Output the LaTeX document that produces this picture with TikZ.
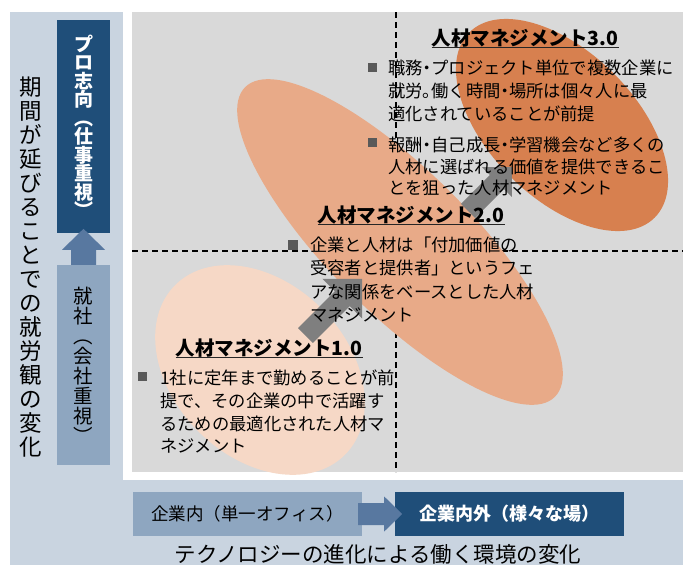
\documentclass[tikz,border=0pt]{standalone}
\usepackage{fontspec}
\setmainfont{Noto Sans CJK JP}
\newfontfamily\pf{Noto Sans CJK JP}[RawFeature=+palt]
\newcommand{\nk}{{\pf ・}}
\definecolor{bgblue}{HTML}{C9D4E0}
\definecolor{plotgray}{HTML}{D9D9D9}
\definecolor{lightbox}{HTML}{8EA6C0}
\definecolor{darkbox}{HTML}{1F4E79}
\definecolor{arrblue}{HTML}{5878A0}
\definecolor{elA}{HTML}{F6D8C6}
\definecolor{elB}{HTML}{E8AA88}
\definecolor{elC}{HTML}{D7804F}
\definecolor{arrgray}{HTML}{7F7F7F}
\definecolor{bulgray}{HTML}{595959}
\begin{document}
\begin{tikzpicture}[x=1pt,y=-1pt,
  bt/.style={anchor=base west, inner sep=0pt, font=\fontsize{17.3}{20}\selectfont},
  ttl/.style={anchor=base, inner sep=0pt, font=\fontsize{19.5}{22}\selectfont\bfseries},
  ul/.style={line width=1.3pt, black!85},
  dline/.style={line width=1.3pt, dash pattern=on 6pt off 4pt},
  vbox/.style={inner sep=0pt, align=center, minimum width=53pt},
  hbox/.style={inner sep=0pt, minimum width=229pt, minimum height=44pt}
]
\clip (0,0) rectangle (683,565);
\useasboundingbox (0,0) rectangle (683,565);
\fill[white] (0,0) rectangle (683,565);
\fill[bgblue] (10,12) rectangle (683,565);
\fill[white] (123,0) rectangle (683,480);
\fill[plotgray] (132,12) rectangle (683,472);
% dashed quadrant lines
\draw[dline] (396,12) -- (396,472);
\draw[dline] (132,251) -- (683,251);
% ellipses
\fill[elA, rotate around={-45:(260,370)}] (260,370) ellipse [x radius=120pt, y radius=87pt];
\fill[elB, rotate around={-45:(400,242)}] (400,242) ellipse [x radius=219pt, y radius=71pt];
\fill[elC, rotate around={-45:(562,125)}] (562,125) ellipse [x radius=131pt, y radius=73pt];
% gray block arrows
\begin{scope}[shift={(305.5,335.5)}, rotate=45]
\fill[arrgray] (0,-10.5) -- (52,-10.5) -- (52,-28) -- (80,0) -- (52,28) -- (52,10.5) -- (0,10.5) -- cycle;
\end{scope}
\begin{scope}[shift={(468,211)}, rotate=45]
\fill[arrgray] (0,-10) -- (41,-10) -- (41,-21) -- (62,0) -- (41,21) -- (41,10) -- (0,10) -- cycle;
\end{scope}
% 3.0
\node[ttl] (t3) at (525,45) {人材マネジメント3.0};
\draw[ul] ([yshift=-2.5pt]t3.base west) -- ([yshift=-2.5pt]t3.base east);
\fill[bulgray] (368,63) rectangle (377,72);
\fill[bulgray] (368,138) rectangle (377,147);
\node[bt] (b3a) at (388,74.5) {職務\nk プロジェクト単位で複数企業に};
\node[bt] (b3b) at (388,97.5) {就労{\pf 。}働く時間\nk 場所は個々人に最};
\node[bt] (b3c) at (388,120) {適化されていることが前提};
\node[bt] (b3d) at (388,151.5) {報酬\nk 自己成長\nk 学習機会など多くの};
\node[bt] (b3e) at (388,173) {人材に選ばれる価値を提供できるこ};
\node[bt] (b3f) at (388,194.5) {とを狙った人材マネジメント};
% 2.0
\node[ttl] (t2) at (411,222) {人材マネジメント2.0};
\draw[ul] ([yshift=-2.5pt]t2.base west) -- ([yshift=-2.5pt]t2.base east);
\fill[bulgray] (288,240) rectangle (297.5,249.5);
\node[bt] (b2a) at (310,251) {企業と人材は「付加価値の};
\node[bt] (b2b) at (310,274.5) {受容者と提供者」というフェ};
\node[bt] (b2c) at (310,298) {アな関係をベースとした人材};
\node[bt] (b2d) at (310,321) {マネジメント};
% 1.0
\node[ttl] (t1) at (269,355) {人材マネジメント1.0};
\draw[ul] ([yshift=-2.5pt]t1.base west) -- ([yshift=-2.5pt]t1.base east);
\fill[bulgray] (138,372) rectangle (147,381);
\node[bt] (b1a) at (160,384) {1社に定年まで勤めることが前};
\node[bt] (b1b) at (160,407) {提で、その企業の中で活躍す};
\node[bt] (b1c) at (160,430.5) {るための最適化された人材マ};
\node[bt] (b1d) at (160,452) {ネジメント};
% left panel
\node[vbox, fill=darkbox, minimum height=213pt, text=white,
  font=\fontsize{19}{18.5}\selectfont\bfseries] (pro) at (83.5,126.5)
  {プ\\ロ\\志\\向\\︵\\仕\\事\\重\\視\\︶};
\node[vbox, fill=lightbox, minimum height=200pt,
  font=\fontsize{19.5}{20}\selectfont] (shu) at (83.5,365)
  {就\\社\\︵\\会\\社\\重\\視\\︶};
\fill[arrblue] ([xshift=-12.5pt]shu.north) -- ([xshift=-12.5pt,yshift=15pt]shu.north)
  -- ([xshift=-21.5pt,yshift=15pt]shu.north) -- ([yshift=36pt]shu.north)
  -- ([xshift=21.5pt,yshift=15pt]shu.north) -- ([xshift=12.5pt,yshift=15pt]shu.north)
  -- ([xshift=12.5pt]shu.north) -- cycle;
\node[inner sep=0pt, align=center, font=\fontsize{22.5}{24}\selectfont] (kikan) at (31,267.5)
  {期\\間\\が\\延\\び\\る\\こ\\と\\で\\の\\就\\労\\観\\の\\変\\化};
% bottom
\node[hbox, fill=lightbox, font=\fontsize{17.5}{20}\selectfont] (k1) at (247.5,514) {企業内（単一オフィス）};
\node[hbox, fill=darkbox, text=white, font=\fontsize{18}{20}\selectfont\bfseries] (k2) at (509.5,514) {企業内外（様々な場）};
\fill[arrblue] ([xshift=-4pt,yshift=11pt]k1.east) -- ([xshift=22pt,yshift=11pt]k1.east)
  -- ([xshift=22pt,yshift=17.5pt]k1.east) -- ([xshift=40pt]k1.east)
  -- ([xshift=22pt,yshift=-17.5pt]k1.east) -- ([xshift=22pt,yshift=-11pt]k1.east)
  -- ([xshift=-4pt,yshift=-11pt]k1.east) -- cycle;
\node[anchor=base, inner sep=0pt, font=\fontsize{21.5}{24}\selectfont] (tech) at (378,562)
  {テクノロジーの進化による働く環境の変化};
\end{tikzpicture}
\end{document}
